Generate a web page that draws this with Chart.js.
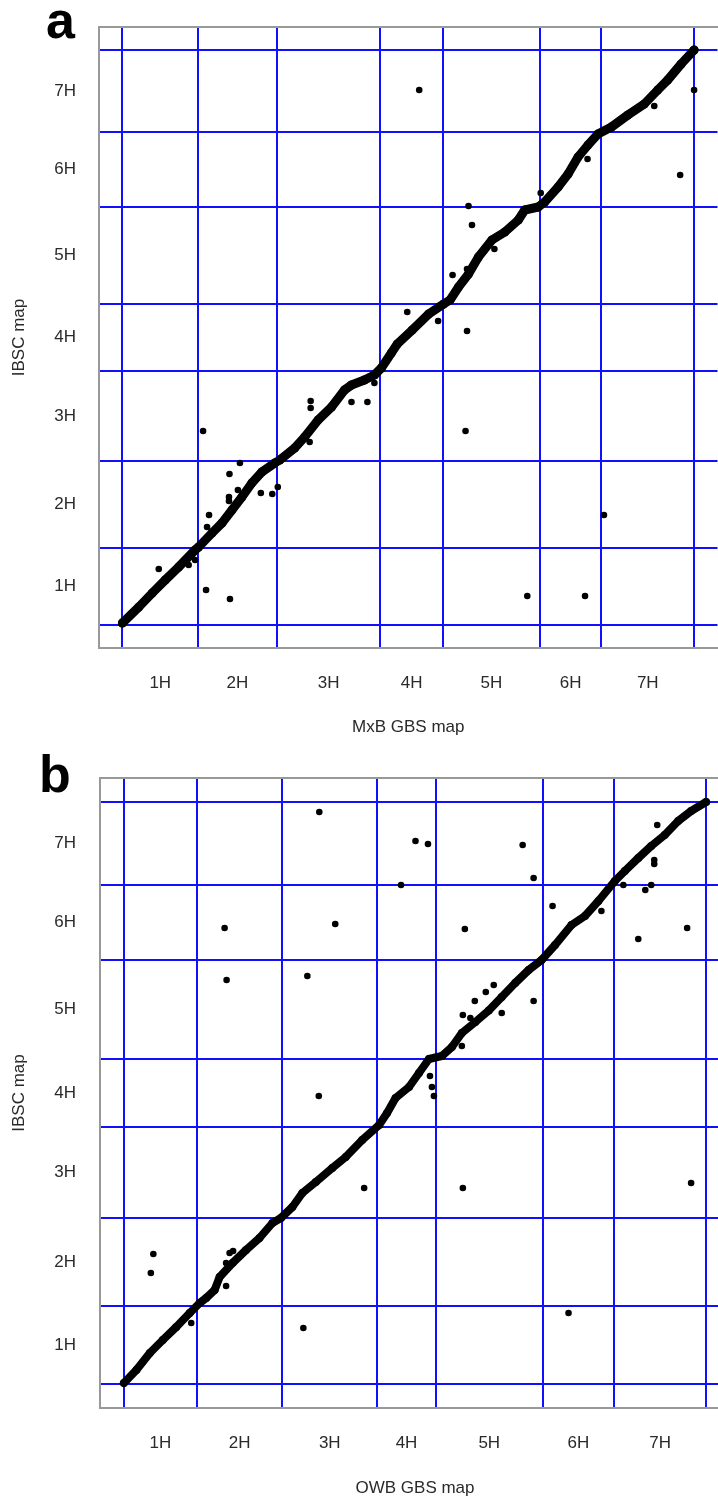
<!DOCTYPE html>
<html>
<head>
<meta charset="utf-8">
<script src="https://cdn.jsdelivr.net/npm/chart.js@4.4.1/dist/chart.umd.min.js"></script>
<style>
  html, body { margin: 0; padding: 0; background: #fff; overflow: hidden; }
  #page { position: relative; width: 718px; height: 1504px; overflow: hidden; }
  canvas { position: absolute; left: 0; }
  .tag { position: absolute; font: bold 52px "Liberation Sans", Arial, sans-serif; line-height: 1; color: #000; }
</style>
</head>
<body>
<div id="page">
  <canvas id="chartA" width="722" height="745" style="top:0"></canvas>
  <canvas id="chartB" width="734" height="753" style="top:751px"></canvas>
  <div class="tag" style="left:46px; top:-6px">a</div>
  <div class="tag" style="left:39px; top:748px">b</div>
</div>
<script>
const CHROMS = ['1H', '2H', '3H', '4H', '5H', '6H', '7H'];

// panel a: MxB GBS map vs IBSC map (cumulative position, chromosome boundaries)
const mxbBounds   = [0, 76, 155, 259, 322, 419, 481, 574];
const ibscBoundsA = [0, 77, 164, 254, 321, 418, 493, 575];
const bandA = [
  [0,2],[16.5,18],[30,32],[43,45],[56.5,58],[73,75],[76.5,78],[90,92],[100,102],[110,115],
  [120,128],[130,142],[140,153],[153,162],[158,165],[173,177],[183,188],[196.5,205],[210,218],
  [223,235],[230,240],[243,245],[253,250],[260,257],[270,272],[276,281],[291,295],[307.5,311],
  [322.5,321],[329,325],[337.5,338],[347.5,351],[357.5,368],[371,385],[384,393],[397.5,405],
  [404,415],[417.5,418],[424,423],[437.5,438],[447.5,451],[457.5,468],[467.5,480],[477.5,491],
  [491,498],[507.5,510],[524,521],[537.5,535],[547.5,545],[561,561],[574,575]
];
const strayA = [
  [36.5,56],[84,35],[108,26],[81,194],[118,162],[107.5,151],[87,110],[85,98],[107,128],[107,124],
  [116,135],[139,132],[150.5,131],[156,138],[73,65],[66.5,60],[189,224],[189,217],[188,183],
  [230,223],[246,223],[253,242],[298,535],[574,535],[560,450],[534,519],[467,466],[420,432],
  [347.5,419],[351,400],[331.5,350],[286,313],[317,304],[346,294],[344.5,194],[406.5,29],
  [464.5,29],[483.5,110],[373.5,376],[346,356]
];

// panel b: OWB GBS map vs IBSC map
const owbBounds   = [0, 73, 159, 254, 313, 420, 492, 584];
const ibscBoundsB = [0, 78, 166, 257, 325, 424, 499, 582];
const bandB = [
  [0,1],[12.5,14],[26,31],[39,44],[52.5,57],[66,71],[76,81],[82.5,86],[91,94],[96,107],
  [109,121],[122.5,134],[136,146],[149,161],[157.5,166],[169,177],[179,191],[192.5,202],
  [209,216],[222.5,227],[239,244],[256,259],[264,271],[272.5,286],[286,297],[296,311],
  [306,325],[319,328],[329,337],[339,351],[352.5,362],[366,373.5],[379,387],[392.5,401],
  [406,414],[419,424],[432.5,439],[449,459],[462.5,468],[476,483],[492.5,503],[502.5,513],
  [516,526],[529,538],[542.5,549],[556,563],[569,573],[584,582]
];
const strayB = [
  [29.5,130],[27,111],[106,131],[109.5,133],[102.5,121],[102.5,98],[67.5,61],[180,56],
  [241,196],[195.5,288],[101,456],[103,404],[196,572],[184,408],[212,460],[292.5,543],
  [305,540],[278,499],[342,455],[400,539],[411,506],[430,478],[411,383],[379,371],[371,399],
  [363,392],[352,383],[340,369],[347.5,366],[339,338],[535,559],[532,524],[532,520],
  [529,499],[523,494],[501,499],[479,473],[565,456],[516,445],[307,308],[309,297],[311,288],
  [340,196],[446,71],[569,201]
];

// ───────────────────────────────────────────────────────────────────────────

const BLUE = '#1010ff';
const TEXT = '#2a2a2a';
const FONT = { family: '"Liberation Sans", Arial, sans-serif', size: 17 };

// grey box round the plot; its right side lies past the page edge, so only three sides
const frame = {
  id: 'frame',
  beforeDatasetsDraw(chart) {
    const { ctx, chartArea: a } = chart;
    ctx.save();
    ctx.strokeStyle = '#999';
    ctx.lineWidth = 2;
    ctx.beginPath();
    ctx.moveTo(a.right + 2, a.top);
    ctx.lineTo(a.left, a.top);
    ctx.lineTo(a.left, a.bottom);
    ctx.lineTo(a.right + 2, a.bottom);
    ctx.stroke();
    ctx.restore();
  }
};

function chromAxis(bounds, min, max, title, size, isX, pad) {
  const mids = bounds.slice(1).map((b, i) => (bounds[i] + b) / 2);
  return {
    type: 'linear',
    position: isX ? 'bottom' : 'left',
    min, max,
    bounds: 'data',
    afterBuildTicks: s => {
      s.ticks = bounds.concat(mids).sort((p, q) => p - q).map(v => ({ value: v }));
    },
    afterFit: s => {
      // fixed axis box, no label overhang padding
      if (isX) s.height = size; else s.width = size;
      s.paddingTop = s.paddingBottom = s.paddingLeft = s.paddingRight = 0;
    },
    grid: {
      color: c => (c.tick && bounds.includes(c.tick.value)) ? BLUE : 'rgba(0,0,0,0)',
      lineWidth: 2,
      drawTicks: false,
    },
    border: { display: false },
    ticks: {
      autoSkip: false,
      maxRotation: 0,
      padding: pad.ticks,
      color: TEXT,
      font: FONT,
      callback: v => { const i = mids.indexOf(v); return i < 0 ? '' : CHROMS[i]; },
    },
    title: { display: true, text: title, color: TEXT, font: FONT, padding: pad.title },
  };
}

function renderPanel(id, cfg) {
  new Chart(document.getElementById(id), {
    type: 'scatter',
    data: {
      datasets: [
        {
          data: cfg.band.map(([x, y]) => ({ x, y })),
          showLine: true,
          borderColor: '#000',
          borderWidth: cfg.bandW,
          borderJoinStyle: 'round',
          borderCapStyle: 'round',
          pointRadius: cfg.bandW / 2,
          pointBackgroundColor: '#000',
          pointBorderWidth: 0,
        },
        {
          data: cfg.stray.map(([x, y]) => ({ x, y })),
          showLine: false,
          pointRadius: 3.3,
          pointBackgroundColor: '#000',
          pointBorderWidth: 0,
        }
      ]
    },
    options: {
      responsive: false,
      animation: false,
      devicePixelRatio: 1,
      layout: { padding: { top: 27, right: 2, left: 0, bottom: 0 } },
      plugins: { legend: { display: false }, tooltip: { enabled: false } },
      scales: {
        x: chromAxis(cfg.xBounds, cfg.xMin, cfg.xMax, cfg.xTitle, cfg.xAxisH, true,
                     { ticks: 25, title: { top: 0, bottom: cfg.xTitlePad } }),
        y: chromAxis(cfg.yBounds, cfg.yMin, cfg.yMax, 'IBSC map', cfg.yAxisW, false,
                     { ticks: cfg.yTickPad, title: { top: 9, bottom: 0 } }),
      }
    },
    plugins: [frame]
  });
}

renderPanel('chartA', {
  band: bandA, stray: strayA, xBounds: mxbBounds, yBounds: ibscBoundsA, bandW: 9,
  xMin: -23.5, xMax: 597.5, yMin: -23, yMax: 598,
  xTitle: 'MxB GBS map', xAxisH: 97, yAxisW: 99, xTitlePad: 7, yTickPad: 23,
});

renderPanel('chartB', {
  band: bandB, stray: strayB, xBounds: owbBounds, yBounds: ibscBoundsB, bandW: 8,
  xMin: -24, xMax: 608, yMin: -24, yMax: 606,
  xTitle: 'OWB GBS map', xAxisH: 96, yAxisW: 100, xTitlePad: 5, yTickPad: 24,
});
</script>
</body>
</html>
